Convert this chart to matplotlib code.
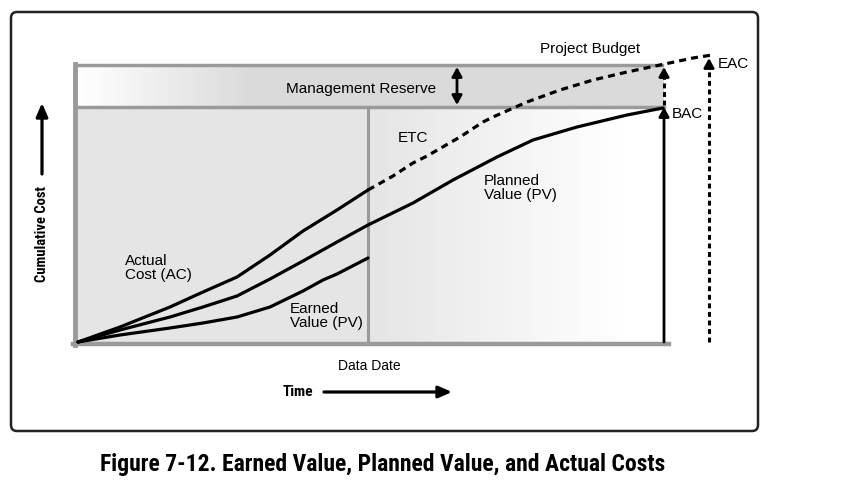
import numpy as np
import matplotlib.pyplot as plt
from matplotlib import font_manager as fm
from matplotlib.colors import LinearSegmentedColormap
from matplotlib.patches import FancyBboxPatch

# curve points (pixel space, y grows downward)
ac_x = [78, 120, 170, 203, 237, 270, 303, 337, 368]
ac_y = [342, 327, 307, 292, 277, 255, 231, 210, 190]
etc_x = [368, 393, 413, 427, 460, 483, 493, 527, 560, 593, 627, 660, 693, 712]
etc_y = [190, 176, 163, 156, 137, 122, 117, 102, 90, 80, 72, 65, 58, 55]
pv_x = [78, 120, 170, 203, 237, 270, 303, 337, 368, 413, 453, 497, 533, 560, 577, 627, 663]
pv_y = [342, 330, 317, 307, 296, 279, 261, 242, 225, 203, 180, 157, 140, 132, 127, 115, 108]
ev_x = [78, 120, 170, 203, 237, 270, 303, 323, 337, 368]
ev_y = [342, 335, 328, 323, 317, 307, 291, 280, 274, 258]

x0, x_dd, x_end = 77, 368, 664
y_base, y_bac, y_top = 342, 107, 65
x_eac, y_eac = 709, 57

gray = '#9a9a9a'
plt.rcParams['font.family'] = ['Liberation Sans', 'DejaVu Sans']


def condensed_bold():
    prefs = ['LiberationSansNarrow-Bold', 'RobotoCondensed-Bold', 'DejaVuSansCondensed-Bold',
             'NotoSans-CondensedBold', 'OpenSans-CondensedBold', 'Roboto_Condensed-Bold']
    files = [f.fname for f in fm.fontManager.ttflist]
    for p in prefs:
        for f in files:
            if p.lower() in f.lower().replace(' ', ''):
                return fm.FontProperties(fname=f)
    for f in fm.fontManager.ttflist:
        if ('ondensed' in f.fname or 'arrow' in f.fname) and f.weight in (700, 'bold'):
            return fm.FontProperties(fname=f.fname)
    return fm.FontProperties(family='DejaVu Sans', weight='bold', stretch='condensed')


cb = condensed_bold()

fig = plt.figure(figsize=(8.52, 4.84), dpi=100)
ax = fig.add_axes([0, 0, 1, 1])
ax.set_xlim(0, 852)
ax.set_ylim(484, 0)
ax.axis('off')

# outer frame
ax.add_patch(FancyBboxPatch((11, 12), 747, 419, boxstyle='round,pad=0,rounding_size=6',
                            fc='white', ec='#222222', lw=1.8))

# shaded areas
ax.fill_between([x0, x_dd], y_bac, y_base, color='#e5e5e5', lw=0)
g = np.linspace(0, 1, 300)[None, :]
main_cm = LinearSegmentedColormap.from_list('m', ['#e5e5e5', '#ffffff'])
ax.imshow(np.clip(g / 0.85, 0, 1), cmap=main_cm, vmin=0, vmax=1, aspect='auto',
          extent=[x_dd, x_end, y_base, y_bac], zorder=1)
band_cm = LinearSegmentedColormap.from_list('b', ['#ffffff', '#dadada'])
ax.imshow(np.clip(g / 0.3, 0, 1), cmap=band_cm, vmin=0, vmax=1, aspect='auto',
          extent=[x0, x_end, y_bac, y_top], zorder=1)

# gray frame lines
ax.plot([x0 - 2, x0 - 2], [y_top - 1, y_base + 3], color=gray, lw=3.5, zorder=2)
ax.plot([x0 - 4, 669], [y_base + 2, y_base + 2], color=gray, lw=3.2, zorder=2)
ax.plot([x0, 662], [y_top, y_top], color=gray, lw=2.5, zorder=2)
ax.plot([x0, x_end], [y_bac, y_bac], color=gray, lw=2.5, zorder=2)
ax.plot([x_dd, x_dd], [y_bac, y_base], color=gray, lw=2.2, zorder=2)

# curves
kw = dict(color='black', lw=2.3, zorder=3, solid_capstyle='round', solid_joinstyle='round')
ax.plot(ac_x, ac_y, **kw)
ax.plot(pv_x, pv_y, **kw)
ax.plot(ev_x, ev_y, **kw)
ax.plot(etc_x, etc_y, color='black', lw=2.3, ls=(0, (2.2, 1.6)), zorder=3)

head = dict(arrowstyle='-|>,head_width=0.3,head_length=0.55', color='black', lw=2,
            shrinkA=0, shrinkB=0)
# BAC arrow
ax.annotate('', xy=(x_end, y_bac), xytext=(x_end, y_base), arrowprops=head, zorder=4)
# reserve arrow (dashed)
ax.plot([x_end, x_end], [y_bac - 2, y_top + 12], color='black', lw=2.2, ls=(0, (1.6, 1.2)), zorder=4)
ax.annotate('', xy=(x_end, y_top + 2), xytext=(x_end, y_top + 12), arrowprops=head, zorder=4)
# EAC arrow (dotted)
ax.plot([x_eac, x_eac], [y_base, y_eac + 12], color='black', lw=2.2, ls=(0, (1.6, 1.2)), zorder=4)
ax.annotate('', xy=(x_eac, y_eac + 1), xytext=(x_eac, y_eac + 11), arrowprops=head, zorder=4)
# management reserve double arrow
ax.annotate('', xy=(457, y_top + 2), xytext=(457, y_bac - 2),
            arrowprops=dict(arrowstyle='<|-|>,head_width=0.3,head_length=0.55', color='black',
                            lw=2, shrinkA=0, shrinkB=0), zorder=4)
# axis arrows
ax.annotate('', xy=(452, 392), xytext=(324, 392),
            arrowprops=dict(arrowstyle='-|>,head_width=0.35,head_length=0.8', color='black',
                            lw=2.3, shrinkA=0, shrinkB=0))
ax.annotate('', xy=(42, 103), xytext=(42, 174),
            arrowprops=dict(arrowstyle='-|>,head_width=0.35,head_length=0.8', color='black',
                            lw=2.3, shrinkA=0, shrinkB=0))

fs = 11
ax.text(590, 49, 'Project Budget', fontsize=fs, ha='center', va='center')
ax.text(361, 89, 'Management Reserve', fontsize=fs, ha='center', va='center', zorder=5)
ax.text(413, 138, 'ETC', fontsize=fs, ha='center', va='center')
ax.text(484, 188, 'Planned\nValue (PV)', fontsize=fs, ha='left', va='center', linespacing=0.95)
ax.text(125, 268, 'Actual\nCost (AC)', fontsize=fs, ha='left', va='center', linespacing=0.95)
ax.text(290, 316, 'Earned\nValue (PV)', fontsize=fs, ha='left', va='center', linespacing=0.95)
ax.text(672, 114, 'BAC', fontsize=fs, ha='left', va='center')
ax.text(718, 64, 'EAC', fontsize=fs, ha='left', va='center')
ax.text(369, 366, 'Data Date', fontsize=10, ha='center', va='center')
ax.text(298, 392, 'Time', fontsize=11, ha='center', va='center', fontproperties=cb)
ax.text(42, 234, 'Cumulative Cost', fontsize=10.5, ha='center', va='center', rotation=90,
        fontproperties=cb)
ax.text(383, 464, 'Figure 7-12. Earned Value, Planned Value, and Actual Costs', fontsize=17,
        ha='center', va='center', fontproperties=cb)

fig.savefig('out.png', dpi=100)
